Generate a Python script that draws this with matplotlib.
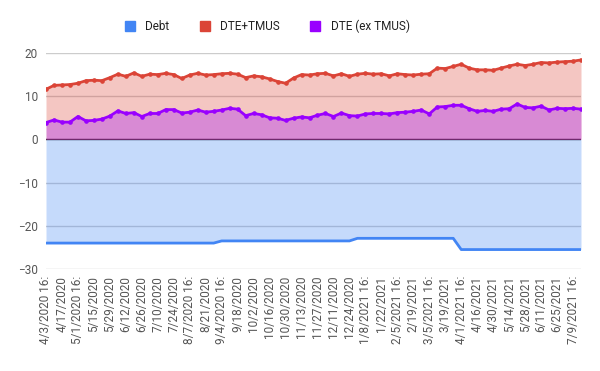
import matplotlib
matplotlib.use("Agg")
from matplotlib import pyplot as plt
from matplotlib.lines import Line2D
import numpy as np

plt.rcParams['font.family'] = ['Roboto', 'DejaVu Sans']

# weekly points, 4/3/2020 .. 7/16/2021
debt = [-24.0] * 22 + [-23.5] * 17 + [-22.9] * 13 + [-25.5] * 16

dte_tmus = [11.6, 12.5, 12.6, 12.7, 13.0, 13.6, 13.7, 13.6, 14.3, 15.1,
            14.6, 15.4, 14.6, 15.1, 15.0, 15.3, 15.0, 14.1, 14.9, 15.3,
            14.9, 15.0, 15.2, 15.3, 15.1, 14.3, 14.7, 14.5, 14.0, 13.4,
            13.0, 14.2, 15.0, 14.9, 15.2, 15.3, 14.7, 15.2, 14.6, 15.1,
            15.3, 15.1, 15.2, 14.7, 15.2, 15.0, 14.9, 15.1, 15.2, 16.5,
            16.4, 16.9, 17.4, 16.5, 16.1, 16.1, 16.0, 16.5, 17.0, 17.4,
            17.1, 17.4, 17.8, 17.7, 17.9, 18.0, 18.1, 18.4]

dte_ex = [3.9, 4.5, 4.0, 4.0, 5.3, 4.3, 4.4, 4.7, 5.4, 6.6,
          6.0, 6.2, 5.3, 6.0, 6.0, 6.9, 6.9, 6.1, 6.3, 6.8,
          6.3, 6.5, 6.8, 7.2, 7.0, 5.5, 6.0, 5.7, 5.0, 4.9,
          4.4, 4.9, 5.2, 5.0, 5.6, 6.0, 5.3, 6.1, 5.5, 5.4,
          5.9, 6.0, 6.0, 5.9, 6.2, 6.3, 6.5, 6.8, 5.9, 7.5,
          7.6, 7.9, 7.9, 7.1, 6.5, 6.7, 6.5, 7.0, 7.1, 8.2,
          7.4, 7.3, 7.7, 6.8, 7.2, 7.1, 7.2, 7.0]

tick_labels = ['4/3/2020 16:', '4/17/2020', '5/1/2020 16:', '5/15/2020',
               '5/29/2020', '6/12/2020', '6/26/2020', '7/10/2020',
               '7/24/2020', '8/7/2020 16:', '8/21/2020', '9/4/2020 16:',
               '9/18/2020', '10/2/2020', '10/16/2020', '10/30/2020',
               '11/13/2020', '11/27/2020', '12/11/2020', '12/24/2020',
               '1/8/2021 16:', '1/22/2021', '2/5/2021 16:', '2/19/2021',
               '3/5/2021 16:', '3/19/2021', '4/1/2021 16:', '4/16/2021',
               '4/30/2021', '5/14/2021', '5/28/2021', '6/11/2021',
               '6/25/2021', '7/9/2021 16:']

names = ['Debt', 'DTE+TMUS', 'DTE (ex TMUS)']
colors = ['#4285f4', '#db4437', '#9900ff']

x = np.arange(len(debt))

fig = plt.figure(figsize=(6, 3.71), dpi=100)
ax = fig.add_axes([46/600, 1 - 269/371, 535/600, 216/371])

for v in range(-30, 30, 10):
    ax.axhline(v, color='#cccccc', lw=1, zorder=0)
ax.axhline(0, color='#333333', lw=1, zorder=0.5)

for i, s in enumerate([debt, dte_tmus, dte_ex]):
    ax.fill_between(x, 0, s, color=colors[i], alpha=0.3, lw=0, zorder=1)
ax.plot(x, debt, color=colors[0], lw=2, zorder=3)
ax.plot(x, dte_tmus, color=colors[1], lw=2, marker='o', ms=2.3, zorder=3)
ax.plot(x, dte_ex, color=colors[2], lw=2, marker='o', ms=2.3, zorder=3)

ax.set_xlim(0, len(debt) - 1)
ax.set_ylim(-30, 20)
ax.set_yticks(range(-30, 30, 10))
ax.set_xticks(x[::2][:len(tick_labels)])
ax.set_xticklabels(tick_labels, rotation=90, fontsize=8.5, color='#555555')
ax.tick_params(axis='y', labelsize=8.5, labelcolor='#555555', length=0, pad=6)
ax.tick_params(axis='x', length=0, pad=5)
for sp in ax.spines.values():
    sp.set_visible(False)

handles = [Line2D([], [], ls='', marker='s', ms=7, color=c) for c in colors]
fig.legend(handles, names, loc='center', bbox_to_anchor=(0.44, 0.93), ncol=3,
           frameon=False, fontsize=8.5, handletextpad=0.3, columnspacing=2.0,
           labelcolor='#222222')

fig.savefig('out.png', dpi=100)
